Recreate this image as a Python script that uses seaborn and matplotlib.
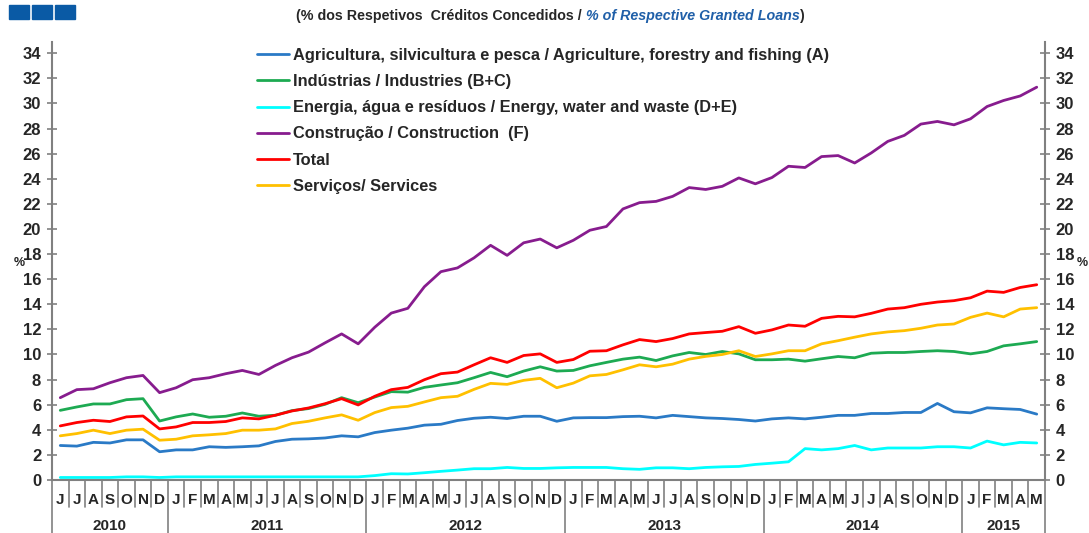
import pandas as pd
import seaborn as sns
import matplotlib.pyplot as plt
from matplotlib.patches import Rectangle
import matplotlib.transforms as mtransforms

# month initials Jun 2010 .. May 2015
months = list("JJASOND") + list("JFMAMJJASOND") * 4 + list("JFMAM")
years = ["2010", "2011", "2012", "2013", "2014", "2015"]
year_len = [7, 12, 12, 12, 12, 5]

agri = [2.75, 2.7, 3.0, 2.95, 3.2, 3.2, 2.25,
        2.4, 2.4, 2.65, 2.6, 2.65, 2.72, 3.07, 3.25, 3.28, 3.35, 3.52, 3.44,
        3.78, 3.97, 4.13, 4.37, 4.44, 4.74, 4.92, 5.0, 4.9, 5.08, 5.08, 4.68,
        4.95, 4.97, 4.97, 5.05, 5.08, 4.95, 5.15, 5.05, 4.95, 4.9, 4.82, 4.7,
        4.87, 4.95, 4.87, 5.0, 5.15, 5.15, 5.3, 5.3, 5.38, 5.38, 6.1, 5.44,
        5.35, 5.75, 5.68, 5.62, 5.25]
industry = [5.55, 5.82, 6.06, 6.06, 6.4, 6.48, 4.7,
            5.03, 5.26, 5.0, 5.08, 5.34, 5.08, 5.16, 5.53, 5.69, 6.03, 6.56, 6.16,
            6.61, 7.04, 7.0, 7.38, 7.57, 7.75, 8.15, 8.57, 8.23, 8.68, 9.02, 8.68,
            8.73, 9.1, 9.37, 9.63, 9.79, 9.52, 9.89, 10.16, 10.0, 10.24, 10.05, 9.58,
            9.58, 9.63, 9.47, 9.66, 9.84, 9.74, 10.1, 10.16, 10.16, 10.24, 10.3, 10.24,
            10.05, 10.24, 10.69, 10.85, 11.03]
energy = [0.2, 0.2, 0.2, 0.2, 0.25, 0.25, 0.2,
          0.25, 0.25, 0.25, 0.25, 0.25, 0.25, 0.25, 0.25, 0.25, 0.25, 0.25, 0.25,
          0.35, 0.5, 0.48, 0.58, 0.69, 0.79, 0.9, 0.9, 1.0, 0.92, 0.92, 0.97,
          1.0, 1.0, 1.0, 0.9, 0.85, 0.97, 0.97, 0.9, 1.0, 1.05, 1.08, 1.24,
          1.34, 1.45, 2.5, 2.4, 2.5, 2.75, 2.4, 2.55, 2.55, 2.55, 2.65, 2.65,
          2.55, 3.1, 2.8, 3.0, 2.95]
construction = [6.56, 7.2, 7.27, 7.75, 8.15, 8.33, 6.96,
                7.35, 7.99, 8.15, 8.47, 8.73, 8.41, 9.13, 9.74, 10.19, 10.93, 11.64, 10.85,
                12.17, 13.3, 13.68, 15.4, 16.6, 16.9, 17.7, 18.7, 17.9, 18.9, 19.2, 18.5,
                19.1, 19.9, 20.2, 21.6, 22.1, 22.2, 22.6, 23.3, 23.15, 23.4, 24.07, 23.6,
                24.1, 25.0, 24.9, 25.77, 25.85, 25.26, 26.06, 26.98, 27.46, 28.36, 28.57, 28.3,
                28.78, 29.76, 30.24, 30.6, 31.3]
total = [4.31, 4.58, 4.76, 4.66, 5.03, 5.1, 4.07,
         4.23, 4.58, 4.58, 4.66, 4.95, 4.87, 5.16, 5.5, 5.74, 6.08, 6.48, 5.98,
         6.67, 7.2, 7.38, 7.99, 8.47, 8.6, 9.18, 9.74, 9.37, 9.92, 10.05, 9.37,
         9.6, 10.26, 10.3, 10.77, 11.19, 11.03, 11.27, 11.64, 11.75, 11.85, 12.22, 11.69,
         11.96, 12.35, 12.25, 12.88, 13.04, 13.0, 13.28, 13.62, 13.73, 14.0, 14.18, 14.29,
         14.52, 15.05, 14.95, 15.34, 15.56]
services = [3.52, 3.7, 3.97, 3.7, 3.97, 4.05, 3.17,
            3.25, 3.52, 3.6, 3.7, 3.97, 3.97, 4.07, 4.5, 4.68, 4.95, 5.19, 4.76,
            5.37, 5.77, 5.87, 6.22, 6.56, 6.67, 7.22, 7.7, 7.62, 7.94, 8.1, 7.35,
            7.72, 8.3, 8.41, 8.78, 9.18, 9.02, 9.23, 9.63, 9.85, 10.0, 10.3, 9.84,
            10.05, 10.3, 10.3, 10.85, 11.1, 11.38, 11.64, 11.8, 11.9, 12.09, 12.35, 12.43,
            12.96, 13.3, 13.0, 13.62, 13.73]

names = ["Agricultura, silvicultura e pesca / Agriculture, forestry and fishing (A)",
         "Indústrias / Industries (B+C)",
         "Energia, água e resíduos / Energy, water and waste (D+E)",
         "Construção / Construction  (F)",
         "Total",
         "Serviços/ Services"]
series = [agri, industry, energy, construction, total, services]
colors = ["#2A7AC6", "#1DAA52", "#00FFFF", "#871C8E", "#FF0000", "#FFC000"]

rows = []
for name, vals in zip(names, series):
    for i, v in enumerate(vals):
        rows.append({"idx": i, "value": v, "serie": name})
df = pd.DataFrame(rows)

sns.set_style("white")
plt.rcParams["font.family"] = ["Liberation Sans", "DejaVu Sans"]
plt.rcParams["font.weight"] = "bold"

fig = plt.figure(figsize=(10.89, 5.33), dpi=100)
ax = fig.add_axes([52 / 1089, 53 / 533, (1045 - 52) / 1089, (480 - 42) / 533])

sns.lineplot(data=df, x="idx", y="value", hue="serie", hue_order=names,
             palette=colors, linewidth=2.0, ax=ax)

grey = "#808080"
ax.set_xlim(-0.5, len(months) - 0.5)
ax.set_ylim(0, 34.9)
ax.set_yticks(range(0, 35, 2))
ax.set_xticks(range(len(months)))
ax.set_xticklabels(months, fontsize=11, fontweight="bold")
ax.tick_params(axis="x", length=0, pad=9)
ax.tick_params(axis="y", direction="inout", length=7.5, width=1.2, color=grey,
               labelsize=12, left=True, right=True, labelleft=True, labelright=True, pad=4)
for lab in ax.get_yticklabels():
    lab.set_fontweight("bold")
ax.set_xlabel("")
ax.set_ylabel("")
for side in ["left", "right", "bottom"]:
    ax.spines[side].set_color(grey)
    ax.spines[side].set_linewidth(1.5)
ax.spines["top"].set_visible(False)

# month and year separators below the axis
trans = mtransforms.blended_transform_factory(ax.transData, ax.transAxes)
year_starts = [0]
for n in year_len[:-1]:
    year_starts.append(year_starts[-1] + n)
for b in range(len(months) + 1):
    is_year = b in year_starts or b == len(months)
    ax.plot([b - 0.5, b - 0.5], [0, -0.125 if is_year else -0.062],
            transform=trans, color=grey, lw=1.2, clip_on=False)
for start, n, yr in zip(year_starts, year_len, years):
    ax.text(start + (n - 1) / 2, -0.105, yr, transform=trans, ha="center",
            va="center", fontsize=11, fontweight="bold")

leg = ax.legend(loc="upper left", bbox_to_anchor=(0.192, 1.02), frameon=False,
                handlelength=1.95, handletextpad=0.2, labelspacing=0.68,
                prop={"size": 11.8, "weight": "bold"})
for line in leg.get_lines():
    line.set_linewidth(2.0)

fig.text(19 / 1089, 1 - 263 / 533, "%", fontsize=9, fontweight="bold", ha="center", va="center")
fig.text(1082 / 1089, 1 - 263 / 533, "%", fontsize=9, fontweight="bold", ha="center", va="center")

# header: blue squares and subtitle
for x0 in [9, 32, 55]:
    fig.patches.append(Rectangle((x0 / 1089, 1 - 19 / 533), 20 / 1089, 14 / 533,
                                 transform=fig.transFigure, color="#0A5AA5"))
t1 = fig.text(296 / 1089, 1 - 16 / 533, "(% dos Respetivos  Créditos Concedidos / ",
              fontsize=10.3, fontweight="bold", va="center")
t2 = ax.annotate("% of Respective Granted Loans", xy=(1, 0), xycoords=t1,
                 va="bottom", fontsize=10.3, fontweight="bold", style="italic",
                 color="#1F5FA8", annotation_clip=False)
ax.annotate(")", xy=(1, 0), xycoords=t2, va="bottom", fontsize=10.3,
            fontweight="bold", annotation_clip=False)

fig.savefig("out.png", dpi=100)
